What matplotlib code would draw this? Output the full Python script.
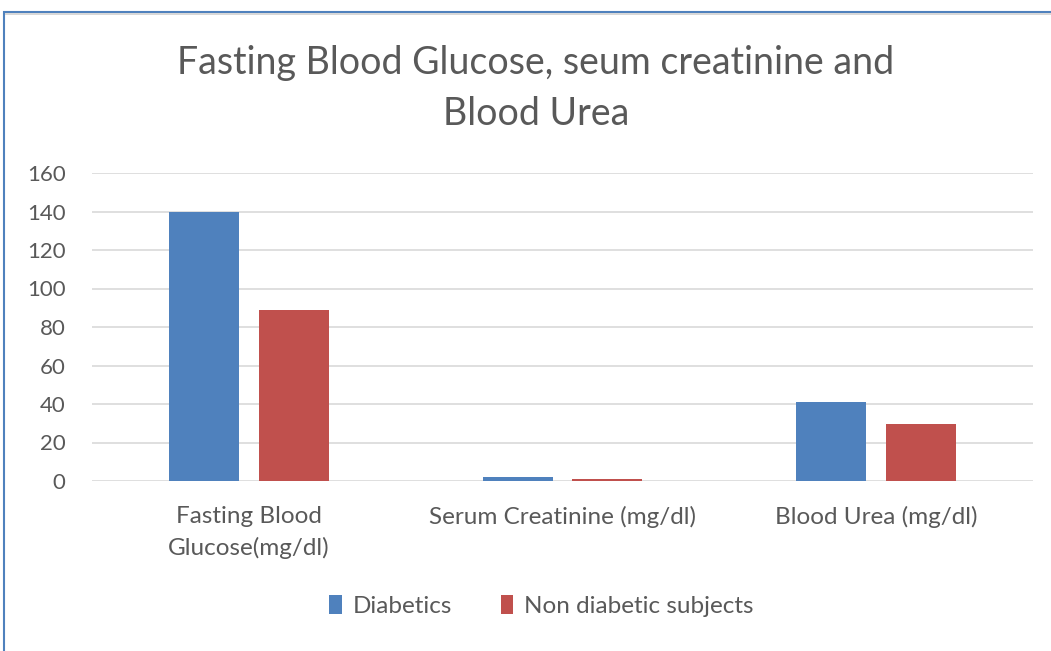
import matplotlib
matplotlib.use('Agg')
import matplotlib.pyplot as plt
from matplotlib.patches import Rectangle
import numpy as np

# Chart data
categories = ['Fasting Blood\nGlucose(mg/dl)', 'Serum Creatinine (mg/dl)', 'Blood Urea (mg/dl)']
diabetics = [140, 2.0, 41]
non_diabetics = [89, 1.1, 29.5]
series_names = ['Diabetics', 'Non diabetic subjects']
yticks = [0, 20, 40, 60, 80, 100, 120, 140, 160]

blue = '#4f81bd'
red = '#c0504d'
text_col = '#595959'

plt.rcParams['font.family'] = ['Lato', 'DejaVu Sans']

fig = plt.figure(figsize=(10.51, 6.51), dpi=100)
ax = fig.add_axes([92 / 1051, 1 - 481 / 651, (1033 - 92) / 1051, (481 - 173) / 651])

x = np.arange(len(categories))
w = 0.223
off = 0.143
ax.bar(x - off, diabetics, w, color=blue, label=series_names[0], zorder=3)
ax.bar(x + off, non_diabetics, w, color=red, label=series_names[1], zorder=3)

ax.set_xlim(-0.5, 2.5)
ax.set_ylim(0, 160)
ax.set_yticks(yticks)
ax.yaxis.grid(True, color='#d9d9d9', linewidth=1.2, zorder=0)
ax.set_axisbelow(True)
for s in ax.spines.values():
    s.set_visible(False)
ax.tick_params(axis='both', length=0, labelcolor=text_col)
ax.tick_params(axis='y', pad=19, labelsize=16)
ax.set_xticks(x)
ax.set_xticklabels(categories, linespacing=1.55)
ax.tick_params(axis='x', pad=18, labelsize=17.5)

fig.text(0.51, 1 - 63 / 651, 'Fasting Blood Glucose, seum creatinine and',
         ha='center', va='center', fontsize=27, color=text_col)
fig.text(0.51, 1 - 114 / 651, 'Blood Urea',
         ha='center', va='center', fontsize=27, color=text_col)

leg = fig.legend(loc='center', bbox_to_anchor=(0.515, 1 - 606 / 651), ncol=2,
                 frameon=False, fontsize=17.5, handlelength=0.5, handleheight=0.8,
                 handletextpad=0.45, columnspacing=2.0)
for t in leg.get_texts():
    t.set_color(text_col)

# outer chart border
fig.patches.append(Rectangle((4 / 1051, -0.1), 1.2, 1 - 12 / 651 + 0.1,
                             transform=fig.transFigure, fill=False,
                             edgecolor=blue, linewidth=1.5))
fig.patches.append(Rectangle((5 / 1051, 1 - 15 / 651), 1.2, 2 / 651,
                             transform=fig.transFigure, color='#d8d8d8',
                             linewidth=0))

plt.savefig('out.png', dpi=100)
